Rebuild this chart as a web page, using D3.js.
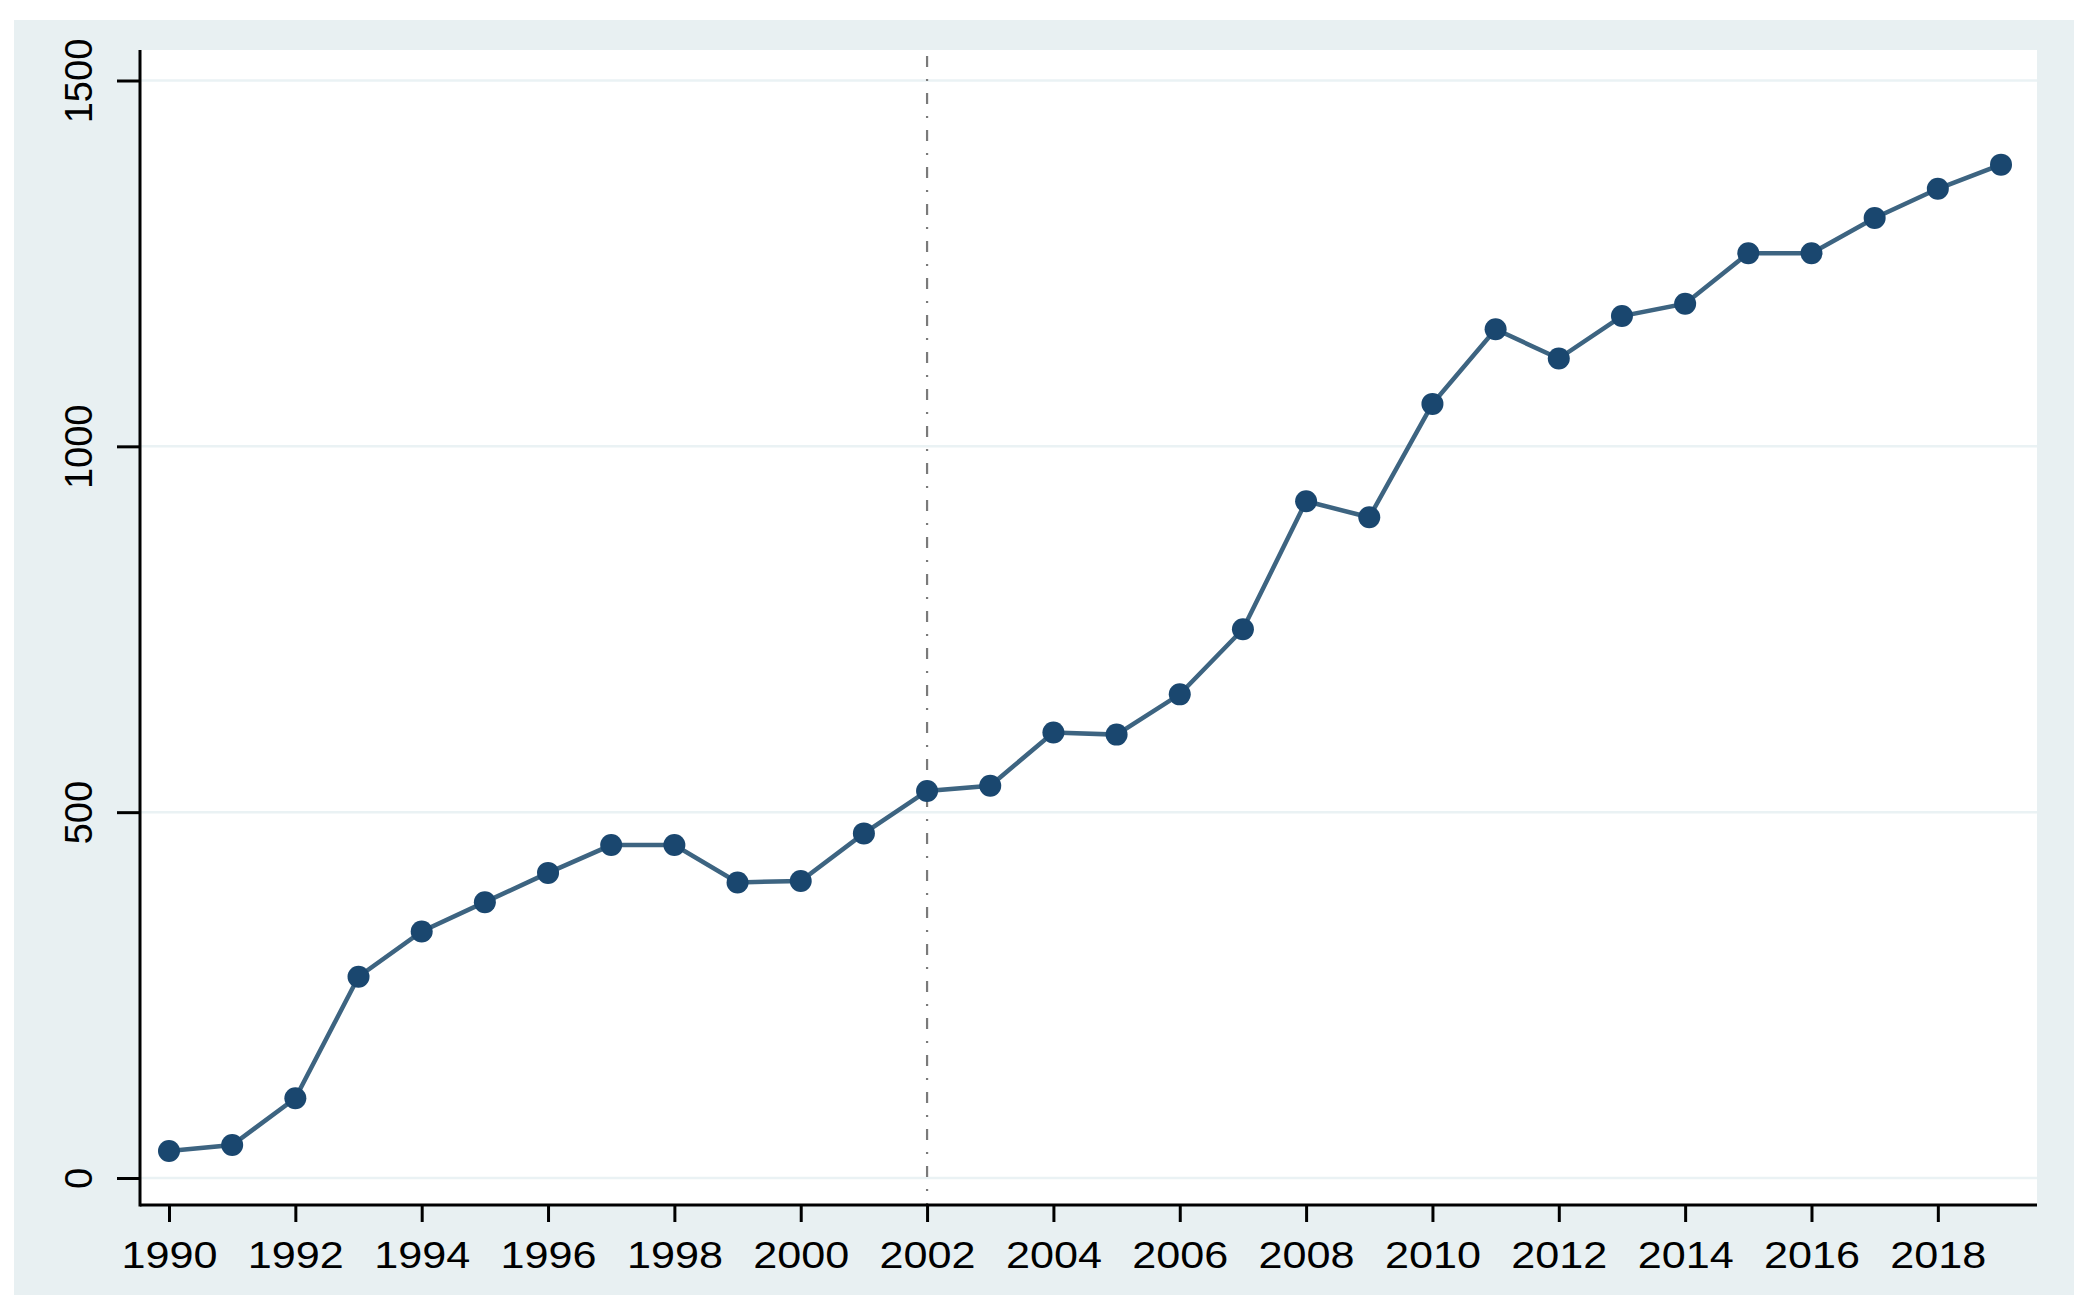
<!DOCTYPE html>
<html>
<head>
<meta charset="utf-8">
<script src="https://cdn.jsdelivr.net/npm/d3@7"></script>
<style>
    body { margin: 0; background: #ffffff; }
    svg text { font-family: Arial, "Liberation Sans", sans-serif; fill: #000; }
</style>
</head>
<body>
<svg id="chart" width="2087" height="1312"></svg>
<script>
// yearly values
var years = [1990, 1991, 1992, 1993, 1994, 1995, 1996, 1997, 1998, 1999,
             2000, 2001, 2002, 2003, 2004, 2005, 2006, 2007, 2008, 2009,
             2010, 2011, 2012, 2013, 2014, 2015, 2016, 2017, 2018, 2019];
var values = [37, 45, 109, 275, 337, 377, 417, 455, 455, 404,
              406, 471, 529, 536, 609, 606, 661, 750, 925, 903,
              1058, 1160, 1120, 1178, 1195, 1264, 1264, 1312, 1352, 1385];
var xTicks = [1990, 1992, 1994, 1996, 1998, 2000, 2002, 2004, 2006, 2008,
              2010, 2012, 2014, 2016, 2018];
var yTicks = [0, 500, 1000, 1500];
var markYear = 2002;

var svg = d3.select('#chart');
var plot = { left: 140, right: 2037, top: 50, bottom: 1205 };

var x = d3.scaleLinear().domain([1990, 2019]).range([169, 2001]);
var y = d3.scaleLinear().domain([0, 1500]).range([1178, 80.5]);

// outer region
svg.append('rect')
    .attr('x', 14).attr('y', 20)
    .attr('width', 2060).attr('height', 1275)
    .attr('fill', '#e8f0f2');

svg.append('rect')
    .attr('x', plot.left).attr('y', plot.top)
    .attr('width', plot.right - plot.left).attr('height', plot.bottom - plot.top)
    .attr('fill', '#ffffff');

// grid
svg.append('g').selectAll('line')
    .data(yTicks)
    .enter().append('line')
    .attr('x1', plot.left).attr('x2', plot.right)
    .attr('y1', function(d) { return y(d); })
    .attr('y2', function(d) { return y(d); })
    .attr('stroke', '#eaf2f4')
    .attr('stroke-width', 2.5);

// vertical marker line
svg.append('line')
    .attr('x1', x(markYear)).attr('x2', x(markYear))
    .attr('y1', plot.top).attr('y2', plot.bottom)
    .attr('stroke', '#7a7a7a')
    .attr('stroke-width', 2.2)
    .attr('stroke-dasharray', '11,12,2,12')
    .attr('stroke-dashoffset', -6);

// axes
var xAxis = d3.axisBottom(x).tickValues(xTicks).tickFormat(d3.format('d'))
    .tickSize(17).tickSizeOuter(0).tickPadding(20);
var gx = svg.append('g')
    .attr('transform', 'translate(0,' + plot.bottom + ')')
    .call(xAxis);
gx.select('.domain').remove();
gx.selectAll('.tick line').attr('stroke', '#000').attr('stroke-width', 3);
gx.selectAll('.tick text')
    .attr('font-size', 37)
    .attr('dy', 0)
    .attr('y', 63)
    .attr('textLength', 96)
    .attr('lengthAdjust', 'spacingAndGlyphs');

var yAxis = d3.axisLeft(y).tickValues(yTicks).tickFormat(d3.format('d'))
    .tickSize(23).tickSizeOuter(0);
var gy = svg.append('g')
    .attr('transform', 'translate(' + plot.left + ',0)')
    .call(yAxis);
gy.select('.domain').remove();
gy.selectAll('.tick line').attr('stroke', '#000').attr('stroke-width', 3);
gy.selectAll('.tick text')
    .attr('font-size', 38)
    .attr('x', null).attr('dy', null)
    .attr('text-anchor', 'middle')
    .attr('transform', 'translate(-48,0) rotate(-90)');

svg.append('line')
    .attr('x1', plot.left).attr('x2', plot.right)
    .attr('y1', plot.bottom).attr('y2', plot.bottom)
    .attr('stroke', '#000').attr('stroke-width', 3);
svg.append('line')
    .attr('x1', plot.left).attr('x2', plot.left)
    .attr('y1', plot.top).attr('y2', plot.bottom + 1.5)
    .attr('stroke', '#000').attr('stroke-width', 3);

// series
var pts = years.map(function(d, i) { return [d, values[i]]; });
var line = d3.line()
    .x(function(d) { return x(d[0]); })
    .y(function(d) { return y(d[1]); });

svg.append('path')
    .datum(pts)
    .attr('d', line)
    .attr('fill', 'none')
    .attr('stroke', '#3d6481')
    .attr('stroke-width', 4.5);

svg.append('g').selectAll('circle')
    .data(pts)
    .enter().append('circle')
    .attr('cx', function(d) { return x(d[0]); })
    .attr('cy', function(d) { return y(d[1]); })
    .attr('r', 11)
    .attr('fill', '#1a476f');
</script>
</body>
</html>
